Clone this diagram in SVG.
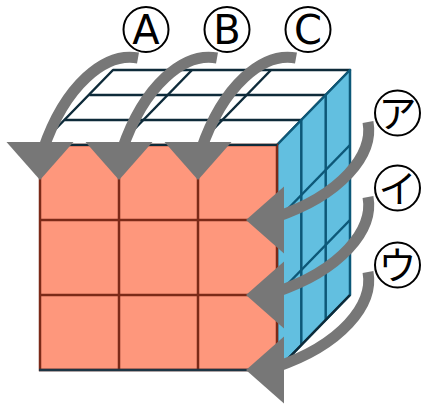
<svg xmlns="http://www.w3.org/2000/svg" xmlns:xlink="http://www.w3.org/1999/xlink" width="422" height="407" viewBox="0 0 422 407">
  <style>
    .front { fill: #fe977c; stroke: #7b2a18; stroke-width: 2.5; }
    .fline { stroke: #7b2a18; stroke-width: 2.5; fill: none; }
    .top { fill: #ffffff; stroke: #0e2b3a; stroke-width: 2.5; stroke-linejoin: round; }
    .tline { stroke: #0e2b3a; stroke-width: 2.5; fill: none; }
    .side { fill: #62bfe0; stroke: #0d5878; stroke-width: 2.5; stroke-linejoin: round; }
    .sline { stroke: #0d5878; stroke-width: 2.5; fill: none; }
    .arc { fill: none; stroke: #777777; stroke-width: 11; stroke-linecap: butt; }
    .head { fill: #777777; }
    .badge { fill: #ffffff; stroke: #000000; stroke-width: 2; }
    .lat { font-family: "DejaVu Sans", "Liberation Sans", sans-serif; font-size: 40px; fill: #000; text-anchor: middle; }
    .kana { font-family: "Noto Sans CJK JP", "Noto Sans CJK SC", sans-serif; font-size: 38px; fill: #000; text-anchor: middle; }
  </style>
  <defs>
    <polygon id="headDown" class="head" points="-33.5,-38 33.5,-38 0,0"/>
    <polygon id="headLeft" class="head" points="38,-33.5 38,33.5 0,0"/>
  </defs>

  <g id="cube">
    <g id="top-face">
      <polygon class="top" points="40,145 277,145 350,70 113,70"/>
      <line class="tline" x1="89.3" y1="95" x2="326.3" y2="95"/>
      <line class="tline" x1="64.7" y1="120" x2="301.7" y2="120"/>
      <line class="tline" x1="119" y1="145" x2="192" y2="70"/>
      <line class="tline" x1="198" y1="145" x2="271" y2="70"/>
    </g>
    <g id="right-face">
      <polygon class="side" points="277,145 350,70 350,295 277,370"/>
      <line class="sline" x1="301.3" y1="120" x2="301.3" y2="345"/>
      <line class="sline" x1="325.7" y1="95" x2="325.7" y2="320"/>
      <line class="sline" x1="277" y1="220" x2="350" y2="145"/>
      <line class="sline" x1="277" y1="295" x2="350" y2="220"/>
      <line x1="277" y1="370" x2="350" y2="295" stroke="#0e2b3a" stroke-width="2.5"/>
    </g>
    <g id="front-face">
      <rect class="front" x="40" y="145" width="237" height="225"/>
      <line class="fline" x1="119" y1="145" x2="119" y2="370"/>
      <line class="fline" x1="198" y1="145" x2="198" y2="370"/>
      <line class="fline" x1="40" y1="220" x2="277" y2="220"/>
      <line class="fline" x1="40" y1="295" x2="277" y2="295"/>
      <line x1="40" y1="145" x2="277" y2="145" stroke="#0e2b3a" stroke-width="2"/>
      <line x1="39" y1="370" x2="277" y2="370" stroke="#1e3544" stroke-width="2.5"/>
    </g>
  </g>

  <g id="connectors">
    <path class="arc" d="M138,58 C105,52 65,85 43,150"/>
    <use xlink:href="#headDown" x="40" y="180"/>
    <path class="arc" d="M217,58 C184,52 144,85 122,150"/>
    <use xlink:href="#headDown" x="119" y="180"/>
    <path class="arc" d="M296,58 C263,52 223,85 201,150"/>
    <use xlink:href="#headDown" x="198" y="180"/>

    <path class="arc" d="M368,122 C374,155 341,195 276,217"/>
    <use xlink:href="#headLeft" x="246" y="220"/>
    <path class="arc" d="M368,197 C374,230 341,270 276,292"/>
    <use xlink:href="#headLeft" x="246" y="295"/>
    <path class="arc" d="M368,272 C374,305 341,345 276,367"/>
    <use xlink:href="#headLeft" x="246" y="370"/>
  </g>

  <g id="label-A">
    <circle class="badge" cx="146" cy="29.5" r="22.5"/>
    <text class="lat" x="146" y="44">A</text>
  </g>
  <g id="label-B">
    <circle class="badge" cx="227" cy="29.5" r="22.5"/>
    <text class="lat" x="227" y="44">B</text>
  </g>
  <g id="label-C">
    <circle class="badge" cx="308" cy="29.5" r="22.5"/>
    <text class="lat" x="308" y="44">C</text>
  </g>
  <g id="label-a">
    <circle class="badge" cx="397.5" cy="113" r="22.5"/>
    <text class="kana" x="397.5" y="127">ア</text>
  </g>
  <g id="label-i">
    <circle class="badge" cx="397.5" cy="188" r="22.5"/>
    <text class="kana" x="397.5" y="202">イ</text>
  </g>
  <g id="label-u">
    <circle class="badge" cx="397.5" cy="265" r="22.5"/>
    <text class="kana" x="397.5" y="279">ウ</text>
  </g>
</svg>
